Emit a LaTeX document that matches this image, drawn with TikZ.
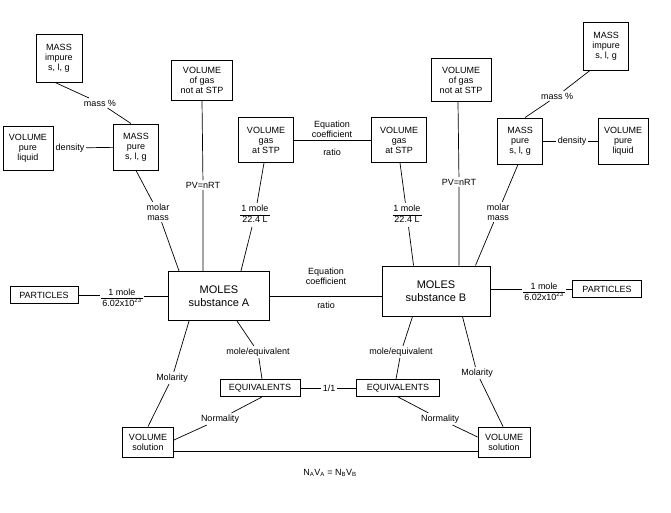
\documentclass[tikz,border=0pt]{standalone}
\usepackage{fontspec}
\setmainfont{Liberation Sans}
\usetikzlibrary{calc}
\begin{document}
\begin{tikzpicture}[x=1pt,y=-1pt,font=\fontsize{9}{10}\selectfont,
  box/.style={draw,thick,align=center,inner sep=2pt,line width=0.9pt},
  lab/.style={align=center,inner sep=1.5pt},
  every path/.style={line width=0.7pt}]
\useasboundingbox (0,0) rectangle (671,513);
\newcommand{\frc}[2]{\setlength{\tabcolsep}{1pt}\begin{tabular}{c}#1\\\hline #2\end{tabular}}
% boxes
\node[box,minimum width=46,minimum height=48] (miA) at (59,58) {MASS\\impure\\s, l, g};
\node[box,minimum width=61,minimum height=40] (nsA) at (202,80) {VOLUME\\of gas\\not at STP};
\node[box,minimum width=50,minimum height=44] (plA) at (28,148) {VOLUME\\pure\\liquid};
\node[box,minimum width=45,minimum height=46] (mpA) at (136,147) {MASS\\pure\\s, l, g};
\node[box,minimum width=55,minimum height=45] (gsA) at (266,140) {VOLUME\\gas\\at STP};
\node[box,minimum width=55,minimum height=45] (gsB) at (399,140) {VOLUME\\gas\\at STP};
\node[box,minimum width=60,minimum height=43] (nsB) at (461,80) {VOLUME\\of gas\\not at STP};
\node[box,minimum width=45,minimum height=48] (miB) at (606,46) {MASS\\impure\\s, l, g};
\node[box,minimum width=45,minimum height=46] (mpB) at (520,141) {MASS\\pure\\s, l, g};
\node[box,minimum width=50,minimum height=46] (plB) at (623,141) {VOLUME\\pure\\liquid};
\node[box,minimum width=68,minimum height=17] (paA) at (44,295) {PARTICLES};
\node[box,minimum width=101,minimum height=49,font=\fontsize{11}{13}\selectfont] (mA) at (219,296) {MOLES\\substance A};
\node[box,minimum width=108,minimum height=50,font=\fontsize{11}{13}\selectfont] (mB) at (436,291) {MOLES\\substance B};
\node[box,minimum width=69,minimum height=17] (paB) at (607,289) {PARTICLES};
\node[box,minimum width=80,minimum height=17] (eqA) at (260,388) {EQUIVALENTS};
\node[box,minimum width=83,minimum height=17] (eqB) at (398,388) {EQUIVALENTS};
\node[box,minimum width=51,minimum height=30] (vsA) at (148,442) {VOLUME\\solution};
\node[box,minimum width=52,minimum height=30] (vsB) at (504,442) {VOLUME\\solution};
% labels
\node[lab] (mpcA) at (100,103) {mass \%};
\node[lab] (dA) at (70,148) {density};
\node[lab] (mmA) at (158,212) {molar\\mass};
\node[lab] (pvA) at (203,185) {PV=nRT};
\node[lab] (fA) at (255,215) {\frc{1 mole}{22.4 L}};
\node[lab] (ecT) at (332,129) {Equation\\coefficient};
\node[lab] (rT) at (332,152) {ratio};
\node[lab] (ecM) at (326,276) {Equation\\coefficient};
\node[lab] (rM) at (326,305) {ratio};
\node[lab] (mpcB) at (557,96) {mass \%};
\node[lab] (dB) at (572,141) {density};
\node[lab] (mmB) at (498,212) {molar\\mass};
\node[lab] (pvB) at (459,182) {PV=nRT};
\node[lab] (fB) at (407,215) {\frc{1 mole}{22.4 L}};
\node[lab] (avA) at (122,299) {\frc{1 mole}{6.02x10\textsuperscript{23}}};
\node[lab] (avB) at (544,293) {\frc{1 mole}{6.02x10\textsuperscript{23}}};
\node[lab] (meA) at (258,352) {mole/equivalent};
\node[lab] (meB) at (401,352) {mole/equivalent};
\node[lab] (oo) at (329,388) {1/1};
\node[lab] (moA) at (172,378) {Molarity};
\node[lab] (moB) at (477,373) {Molarity};
\node[lab] (noA) at (220,419) {Normality};
\node[lab] (noB) at (440,419) {Normality};
\node[lab] at (330,473) {N\textsubscript{A}V\textsubscript{A} = N\textsubscript{B}V\textsubscript{B}};
% connectors
\draw ($(miA.south)+(-4,0)$) -- (mpcA) -- ($(mpA.north)+(-5,0)$);
\draw (plA) -- (dA) -- (mpA);
\draw (mpA.south) -- (mmA) -- ($(mA.north west)+(11,0)$);
\draw (nsA.south) -- (pvA) -- (pvA|-mA.north);
\draw ($(gsA.south)+(-2,0)$) -- (fA) -- ($(mA.north east)+(-29,0)$);
\draw (gsA.east) -- (gsB.west);
\draw (mA.east) -- (mB.west|-mA.east);
\draw ($(gsB.south)+(1,0)$) -- (fB) -- ($(mB.north west)+(32,0)$);
\draw ($(nsB.south)+(-3,0)$) -- (pvB) -- (pvB|-mB.north);
\draw ($(mpB.south)+(-2,0)$) -- (mmB) -- ($(mB.north east)+(-15,0)$);
\draw ($(miB.south)+(-16,0)$) -- (mpcB) -- ($(mpB.north)+(5,0)$);
\draw (dB) -- (mpB.east|-dB); \draw (dB) -- (plB.west|-dB);
\draw (paA.east) -- (avA.west|-paA.east); \draw (avA.east|-mA.west) -- (mA.west);
\draw (mB.east|-paB) -- (avB.west|-paB); \draw (avB.east|-paB) -- (paB.west);
\draw ($(mA.south west)+(21,0)$) -- (moA) -- ($(vsA.north)+(0,0)$);
\draw ($(mA.south east)+(-33,0)$) -- (meA) -- ($(eqA.north)+(2,0)$);
\draw ($(mB.south west)+(31,0)$) -- (meB) -- ($(eqB.north)+(-2,0)$);
\draw ($(mB.south east)+(-28,0)$) -- (moB) -- ($(vsB.north)+(-1,0)$);
\draw (eqA) -- (oo) -- (eqB);
\draw ($(eqA.south)+(2,0)$) -- (noA) -- ($(vsA.east)+(0,-2)$);
\draw ($(eqB.south)+(0,0)$) -- (noB) -- ($(vsB.west)+(0,-5)$);
\draw ($(vsA.east)+(0,9)$) -- ($(vsB.west)+(0,9)$);
\end{tikzpicture}
\end{document}
